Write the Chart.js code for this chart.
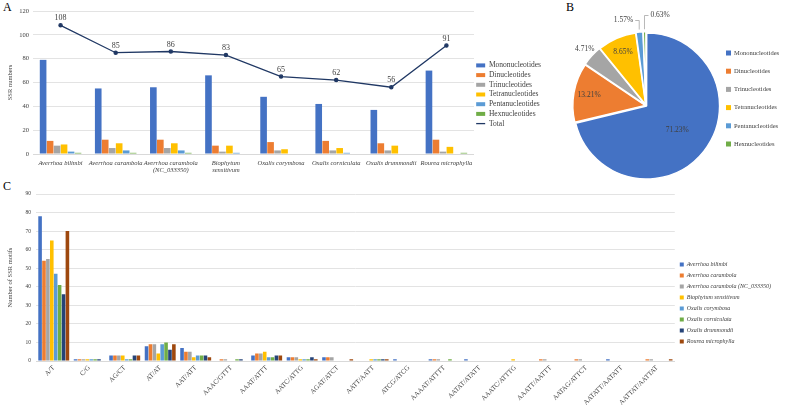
<!DOCTYPE html>
<html>
<head>
<meta charset="utf-8">
<script src="https://cdn.jsdelivr.net/npm/chart.js@4.4.1/dist/chart.umd.min.js"></script>
<style>
  html, body { margin: 0; padding: 0; background: #fff; }
  body { width: 787px; height: 412px; position: relative; overflow: hidden; font-family: "Liberation Serif", serif; }
  .box { position: absolute; }
  .tag { position: absolute; font-size: 12px; color: #000; line-height: 12px; }
</style>
</head>
<body>
<div class="tag" style="left:3px;top:1px">A</div>
<div class="tag" style="left:566px;top:1px">B</div>
<div class="tag" style="left:3px;top:180px">C</div>

<div class="box" style="left:0;top:0;width:551px;height:178px"><canvas id="chartA" width="551" height="178"></canvas></div>
<div class="box" style="left:540px;top:0;width:247px;height:185px"><canvas id="chartB" width="247" height="185"></canvas></div>
<div class="box" style="left:0;top:178px;width:787px;height:234px"><canvas id="chartC" width="787" height="234"></canvas></div>

<script>
// ---- panel A / B data ----
const species = ['Averrhoa bilimbi', 'Averrhoa carambola', ['Averrhoa carambola', '(NC_033350)'],
  ['Biophytum', 'sensitivum'], 'Oxalis corymbosa', 'Oxalis corniculata', 'Oxalis drummondii', 'Rourea microphylla'];
const repeatTypes = ['Mononucleotides', 'Dinucleotides', 'Trinucleotides', 'Tetranucleotides', 'Pentanucleotides', 'Hexnucleotides'];
const mono  = [79, 55, 56, 66, 48, 42, 37, 70];
const di    = [11, 12, 12, 7, 10, 11, 9, 12];
const tri   = [7, 5, 5, 2, 3, 3, 3, 2];
const tetra = [8, 9, 9, 7, 4, 5, 7, 6];
const penta = [2, 3, 3, 1, 0, 1, 0, 0];
const hexa  = [1, 1, 1, 0, 0, 0, 0, 1];
const total = [108, 85, 86, 83, 65, 62, 56, 91];
const yTicksA = [0, 20, 40, 60, 80, 100, 120];

const piePercent = [71.23, 13.21, 4.71, 8.65, 1.57, 0.63];

// ---- panel C data ----
const motifs = ['A/T', 'C/G', 'AG/CT', 'AT/AT', 'AAT/ATT', 'AAAC/GTTT', 'AAAT/ATTT', 'AATC/ATTG', 'AGAT/ATCT',
  'AATT/AATT', 'ATCG/ATCG', 'AAAAT/ATTTT', 'AATAT/ATATT', 'AAATC/ATTTG', 'AAATT/AATTT', 'AATAG/ATTCT',
  'AATATT/AATATT', 'AATTAT/AATTAT'];
const speciesC = ['Averrhoa bilimbi', 'Averrhoa carambola', 'Averrhoa carambola (NC_033350)', 'Biophytum sensitivum',
  'Oxalis corymbosa', 'Oxalis corniculata', 'Oxalis drummondii', 'Rourea microphylla'];
const bilimbiMotifs     = [78, 1, 3, 8, 7, 0, 3, 2, 2, 0, 1, 1, 1, 0, 0, 0, 1, 0];
const carambolaMotifs   = [54, 1, 3, 9, 5, 1, 4, 2, 2, 0, 0, 1, 0, 0, 1, 1, 0, 1];
const carambolaNCMotifs = [55, 1, 3, 9, 5, 1, 4, 2, 2, 0, 0, 1, 0, 0, 1, 1, 0, 1];
const biophytumMotifs   = [65, 1, 3, 4, 2, 0, 5, 1, 0, 1, 0, 0, 0, 1, 0, 0, 0, 0];
const corymbosaMotifs   = [47, 1, 1, 9, 3, 0, 2, 1, 0, 1, 0, 0, 0, 0, 0, 0, 0, 0];
const corniculataMotifs = [41, 1, 1, 10, 3, 1, 2, 1, 0, 1, 0, 1, 0, 0, 0, 0, 0, 0];
const drummondiiMotifs  = [36, 1, 3, 6, 3, 1, 3, 2, 0, 1, 0, 0, 0, 0, 0, 0, 0, 0];
const roureaMotifs      = [70, 0, 3, 9, 2, 0, 3, 1, 1, 1, 0, 0, 0, 0, 0, 0, 0, 1];
const yTicksC = [0, 10, 20, 30, 40, 50, 60, 70, 80, 90];

const typeColors = ['#4472C4', '#ED7D31', '#A5A5A5', '#FFC000', '#5B9BD5', '#70AD47'];
const speciesColors = ['#4472C4', '#ED7D31', '#A5A5A5', '#FFC000', '#5B9BD5', '#70AD47', '#264478', '#9E480E'];
const textColor = '#404040';
const gridColor = '#E3E3E3';

Chart.defaults.font.family = '"Liberation Serif", "Times New Roman", serif';
Chart.defaults.color = textColor;
Chart.defaults.animation = false;

/* ---------------- A: bars + total line ---------------- */
const totalLabels = {
  id: 'totalLabels',
  afterDatasetsDraw(chart) {
    const meta = chart.getDatasetMeta(6);
    const ctx = chart.ctx;
    ctx.save();
    ctx.font = '8px "Liberation Serif"';
    ctx.fillStyle = textColor;
    ctx.textAlign = 'center';
    ctx.textBaseline = 'bottom';
    meta.data.forEach((pt, i) => ctx.fillText(total[i], pt.x, pt.y - 3));
    ctx.restore();
  }
};

const seriesA = [mono, di, tri, tetra, penta, hexa];
new Chart(document.getElementById('chartA'), {
  type: 'bar',
  data: {
    labels: species,
    datasets: [
      ...seriesA.map((vals, i) => ({
        label: repeatTypes[i],
        data: vals,
        backgroundColor: typeColors[i],
        barPercentage: 0.95,
        categoryPercentage: 0.76
      })),
      {
        type: 'line',
        label: 'Total',
        data: total,
        borderColor: '#203864',
        backgroundColor: '#203864',
        borderWidth: 1.3,
        pointRadius: 1.6,
        pointBackgroundColor: '#203864',
        tension: 0
      }
    ]
  },
  options: {
    responsive: false,
    layout: { padding: { top: 11, left: 0, right: 0, bottom: 0 } },
    plugins: {
      tooltip: { enabled: false },
      legend: {
        position: 'right',
        labels: {
          font: { size: 7.5 },
          color: textColor,
          usePointStyle: true,
          pointStyleWidth: 9,
          boxHeight: 4,
          padding: 2.2,
          generateLabels(chart) {
            const items = Chart.defaults.plugins.legend.labels.generateLabels(chart);
            items.forEach(it => { it.pointStyle = it.datasetIndex === 6 ? 'line' : 'rect'; });
            return items;
          }
        }
      }
    },
    scales: {
      x: {
        grid: { display: false, drawTicks: false },
        border: { color: '#D9D9D9' },
        ticks: { font: { size: 6.5, style: 'italic' }, color: textColor, maxRotation: 0, autoSkip: false, padding: 5 },
        afterFit(s) { s.height = 24; }
      },
      y: {
        min: 0, max: 120,
        afterBuildTicks(s) { s.ticks = yTicksA.map(v => ({ value: v })); },
        grid: { color: gridColor, drawTicks: false },
        border: { display: false },
        ticks: { font: { size: 6.5 }, color: textColor, padding: 4 },
        title: { display: true, text: 'SSR numbers', font: { size: 6.5 }, color: textColor, padding: { top: 6, bottom: 0 } },
        afterFit(s) { s.width = 33; }
      }
    }
  },
  plugins: [totalLabels]
});

/* ---------------- B: pie ---------------- */
// where each percentage goes: k = radial factor, lead = leader line side
const pieLabelPlace = [{ k: 0.55 }, { k: 0.8 }, { k: 1.15 }, { k: 0.8 }, { lead: -1, ty: -85 }, { lead: 1, ty: -90 }];
const pieOffset = 3;

const pieLabels = {
  id: 'pieLabels',
  afterDatasetsDraw(chart) {
    const ctx = chart.ctx;
    const arcs = chart.getDatasetMeta(0).data;
    ctx.save();
    ctx.font = '7.5px "Liberation Serif"';
    ctx.fillStyle = textColor;
    ctx.strokeStyle = '#A6A6A6';
    ctx.lineWidth = 0.8;
    ctx.textBaseline = 'middle';
    arcs.forEach((arc, i) => {
      const p = arc.getProps(['x', 'y', 'startAngle', 'endAngle', 'outerRadius'], true);
      const mid = (p.startAngle + p.endAngle) / 2;
      const txt = piePercent[i].toFixed(2) + '%';
      const place = pieLabelPlace[i];
      if (place.lead) {
        const r = p.outerRadius + pieOffset + 1;
        const ax = p.x + Math.cos(mid) * r;
        const ay = p.y + Math.sin(mid) * r;
        const ty = p.y + place.ty;
        const ex = ax + place.lead * 4;
        ctx.beginPath();
        ctx.moveTo(ax, ay);
        ctx.lineTo(ax, ty);
        ctx.lineTo(ex, ty);
        ctx.stroke();
        ctx.textAlign = place.lead < 0 ? 'right' : 'left';
        ctx.fillText(txt, ex + place.lead * 2, ty);
      } else {
        const r = p.outerRadius * place.k;
        ctx.textAlign = 'center';
        ctx.fillText(txt, p.x + Math.cos(mid) * r, p.y + Math.sin(mid) * r);
      }
    });
    ctx.restore();
  }
};

// the built-in legend can't get the wide row gap without eating the pie's room, so draw it here
const pieLegend = {
  id: 'pieLegend',
  afterDraw(chart) {
    const ctx = chart.ctx;
    const x0 = chart.chartArea.right + 5;
    const y0 = 53;
    ctx.save();
    ctx.font = '6.5px "Liberation Serif"';
    ctx.textBaseline = 'middle';
    ctx.textAlign = 'left';
    chart.data.labels.forEach((lab, i) => {
      const y = y0 + i * 18.2;
      ctx.fillStyle = chart.data.datasets[0].backgroundColor[i];
      ctx.fillRect(x0, y - 2.5, 5, 5);
      ctx.fillStyle = textColor;
      ctx.fillText(lab, x0 + 8, y);
    });
    ctx.restore();
  }
};

new Chart(document.getElementById('chartB'), {
  type: 'pie',
  data: {
    labels: repeatTypes,
    datasets: [{
      data: piePercent,
      backgroundColor: typeColors,
      borderColor: '#fff',
      borderWidth: 1.5,
      offset: pieOffset
    }]
  },
  options: {
    responsive: false,
    layout: { padding: { top: 31, left: 31, right: 66, bottom: 5 } },
    plugins: {
      tooltip: { enabled: false },
      legend: { display: false }
    }
  },
  plugins: [pieLabels, pieLegend]
});

/* ---------------- C: motif bars ---------------- */
const seriesC = [bilimbiMotifs, carambolaMotifs, carambolaNCMotifs, biophytumMotifs,
  corymbosaMotifs, corniculataMotifs, drummondiiMotifs, roureaMotifs];

new Chart(document.getElementById('chartC'), {
  type: 'bar',
  data: {
    labels: motifs,
    datasets: seriesC.map((vals, i) => ({
      label: speciesC[i],
      data: vals,
      backgroundColor: speciesColors[i],
      barPercentage: 0.92,
      categoryPercentage: 0.88
    }))
  },
  options: {
    responsive: false,
    layout: { padding: { top: 16, left: 0, right: 6, bottom: 0 } },
    plugins: {
      tooltip: { enabled: false },
      legend: {
        position: 'right',
        labels: { font: { size: 6, style: 'italic' }, color: textColor, boxWidth: 4, boxHeight: 4, padding: 5 }
      }
    },
    scales: {
      x: {
        grid: { display: false, drawTicks: false },
        border: { color: '#D9D9D9' },
        ticks: { font: { size: 6.8 }, color: textColor, minRotation: 45, maxRotation: 45, autoSkip: false, padding: 3 },
        afterFit(s) { s.height = 51; }
      },
      y: {
        min: 0, max: 90,
        afterBuildTicks(s) { s.ticks = yTicksC.map(v => ({ value: v })); },
        grid: { color: gridColor, drawTicks: false },
        border: { display: false },
        ticks: { font: { size: 5.5 }, color: textColor, padding: 5 },
        title: { display: true, text: 'Number of SSR motifs', font: { size: 6.5 }, color: textColor, padding: { top: 6, bottom: 0 } },
        afterFit(s) { s.width = 36; }
      }
    }
  }
});
</script>
</body>
</html>
